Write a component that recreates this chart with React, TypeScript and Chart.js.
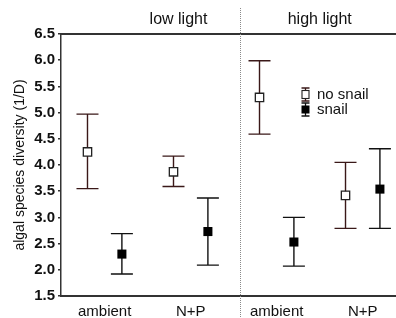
import React, { useEffect, useRef } from 'react';
import { Chart, registerables } from 'chart.js';

Chart.register(...registerables);

// ---- data ----
const categories = ['ambient', 'N+P', 'ambient', 'N+P'];
const lightLevels = ['low light', 'high light'];
const seriesNames = ['no snail', 'snail'];
const noSnailMean = [4.25, 3.87, 5.29, 3.42];
const noSnailUpper = [4.97, 4.17, 5.99, 4.05];
const noSnailLower = [3.55, 3.59, 4.59, 2.79];
const snailMean = [2.3, 2.73, 2.53, 3.54];
const snailUpper = [2.69, 3.37, 3.0, 4.31];
const snailLower = [1.92, 2.09, 2.07, 2.79];
const yTicks = [1.5, 2.0, 2.5, 3.0, 3.5, 4.0, 4.5, 5.0, 5.5, 6.0, 6.5];
const yTitle = 'algal species diversity (1/D)';

// ---- layout (in axis units) ----
const X_MIN = 0.492;
const X_MAX = 4.387;
const OFFSETS = [-0.2, 0.2];
const DIVIDER_X = 2.573;
const LIGHT_TITLE_X = [1.858, 3.5];

const FONT = "'Liberation Sans', Arial, Helvetica, sans-serif";
const BAR_COLORS = ['#3a1818', '#111111'];

const errs = [
  { mean: noSnailMean, up: noSnailUpper, lo: noSnailLower },
  { mean: snailMean, up: snailUpper, lo: snailLower },
];

const decor = {
  id: 'decor',
  beforeDatasetsDraw(chart: any) {
    const { ctx, scales } = chart;
    const x = scales.x;
    const y = scales.y;
    ctx.save();
    errs.forEach((s, si) => {
      ctx.strokeStyle = BAR_COLORS[si];
      ctx.lineWidth = 1.4;
      s.mean.forEach((_m, i) => {
        const px = x.getPixelForValue(i + 1 + OFFSETS[si]);
        const pu = y.getPixelForValue(s.up[i]);
        const pl = y.getPixelForValue(s.lo[i]);
        ctx.beginPath();
        ctx.moveTo(px, pu);
        ctx.lineTo(px, pl);
        ctx.moveTo(px - 11, pu);
        ctx.lineTo(px + 11, pu);
        ctx.moveTo(px - 11, pl);
        ctx.lineTo(px + 11, pl);
        ctx.stroke();
      });
    });
    ctx.restore();
  },
  afterDraw(chart: any) {
    const { ctx, chartArea, scales } = chart;
    const x = scales.x;
    ctx.save();
    // top line
    ctx.strokeStyle = '#333';
    ctx.lineWidth = 2;
    ctx.beginPath();
    ctx.moveTo(chartArea.left, chartArea.top);
    ctx.lineTo(chart.width, chartArea.top);
    ctx.stroke();
    // divider
    const dx = Math.round(x.getPixelForValue(DIVIDER_X)) + 0.5;
    ctx.strokeStyle = '#8a8a8a';
    ctx.lineWidth = 1;
    ctx.setLineDash([1, 1]);
    ctx.beginPath();
    ctx.moveTo(dx, 8);
    ctx.lineTo(dx, chart.height);
    ctx.stroke();
    ctx.setLineDash([]);
    // light titles
    ctx.fillStyle = '#111';
    ctx.font = `16px ${FONT}`;
    ctx.textAlign = 'center';
    ctx.textBaseline = 'alphabetic';
    lightLevels.forEach((t, i) => {
      ctx.fillText(t, x.getPixelForValue(LIGHT_TITLE_X[i]), 24);
    });
    // legend
    const lx = 305.5;
    const rows = [94.5, 109.5];
    rows.forEach((cy, si) => {
      ctx.strokeStyle = BAR_COLORS[si];
      ctx.lineWidth = 1.3;
      ctx.beginPath();
      ctx.moveTo(lx, cy - 6.5);
      ctx.lineTo(lx, cy + 6.5);
      ctx.moveTo(lx - 4, cy - 6.5);
      ctx.lineTo(lx + 4, cy - 6.5);
      ctx.moveTo(lx - 4, cy + 6.5);
      ctx.lineTo(lx + 4, cy + 6.5);
      ctx.stroke();
      if (si === 0) {
        ctx.fillStyle = '#fff';
        ctx.fillRect(lx - 3.5, cy - 4, 7, 8);
        ctx.strokeStyle = '#222';
        ctx.lineWidth = 1.1;
        ctx.strokeRect(lx - 3.5, cy - 4, 7, 8);
      } else {
        ctx.fillStyle = '#000';
        ctx.fillRect(lx - 4, cy - 4, 8, 8);
      }
      ctx.fillStyle = '#111';
      ctx.font = `15px ${FONT}`;
      ctx.textAlign = 'left';
      ctx.textBaseline = 'middle';
      ctx.fillText(seriesNames[si], 317, cy + 0.5);
    });
    ctx.restore();
  },
};

export default function App() {
  const ref = useRef<HTMLCanvasElement>(null);
  useEffect(() => {
    if (!ref.current) return;
    const chart = new Chart(ref.current, {
      type: 'scatter',
      data: {
        datasets: [
          {
            label: seriesNames[0],
            data: noSnailMean.map((v, i) => ({ x: i + 1 + OFFSETS[0], y: v })),
            pointStyle: 'rect',
            pointRadius: 5.9,
            pointBackgroundColor: '#ffffff',
            pointBorderColor: '#222222',
            pointBorderWidth: 1.3,
            showLine: false,
          },
          {
            label: seriesNames[1],
            data: snailMean.map((v, i) => ({ x: i + 1 + OFFSETS[1], y: v })),
            pointStyle: 'rect',
            pointRadius: 6.4,
            pointBackgroundColor: '#000000',
            pointBorderColor: '#000000',
            pointBorderWidth: 0,
            showLine: false,
          },
        ],
      },
      options: {
        animation: false,
        responsive: false,
        maintainAspectRatio: false,
        devicePixelRatio: 1,
        layout: { autoPadding: false, padding: { top: 34, left: 0, right: 0, bottom: 0 } },
        plugins: {
          legend: { display: false },
          tooltip: { enabled: false },
          title: { display: false },
        },
        scales: {
          x: {
            type: 'linear',
            min: X_MIN,
            max: X_MAX,
            grid: { display: false, drawTicks: false, tickLength: 0 },
            border: { display: true, color: '#333', width: 2 },
            afterBuildTicks: (scale: any) => {
              scale.ticks = categories.map((_c, i) => ({ value: i + 1 }));
            },
            afterFit: (scale: any) => {
              scale.height = 22;
              scale.paddingLeft = 0;
              scale.paddingRight = 0;
            },
            ticks: {
              autoSkip: false,
              maxRotation: 0,
              padding: 7,
              color: '#111',
              font: { family: FONT, size: 15 },
              callback: (_v: any, i: number) => categories[i],
            },
          },
          y: {
            type: 'linear',
            min: 1.5,
            max: 6.5,
            grid: {
              display: true,
              drawOnChartArea: false,
              drawTicks: true,
              tickLength: 3,
              color: '#333',
              lineWidth: 1.5,
            },
            border: { display: true, color: '#333', width: 1.5 },
            afterBuildTicks: (scale: any) => {
              scale.ticks = yTicks.map((v) => ({ value: v }));
            },
            afterFit: (scale: any) => {
              scale.width = 61;
            },
            ticks: {
              padding: 3,
              color: '#111',
              font: { family: FONT, size: 15, weight: 'bold' },
              callback: (v: any) => Number(v).toFixed(1),
            },
            title: {
              display: true,
              text: yTitle,
              color: '#111',
              font: { family: FONT, size: 14 },
              padding: { top: 12, bottom: 0 },
            },
          },
        },
      },
      plugins: [decor],
    } as any);
    return () => chart.destroy();
  }, []);
  return (
    <div style={{ position: 'absolute', left: 0, top: 0, width: 396, height: 318, overflow: 'hidden' }}>
      <canvas ref={ref} width={396} height={318} style={{ display: 'block' }} />
    </div>
  );
}
